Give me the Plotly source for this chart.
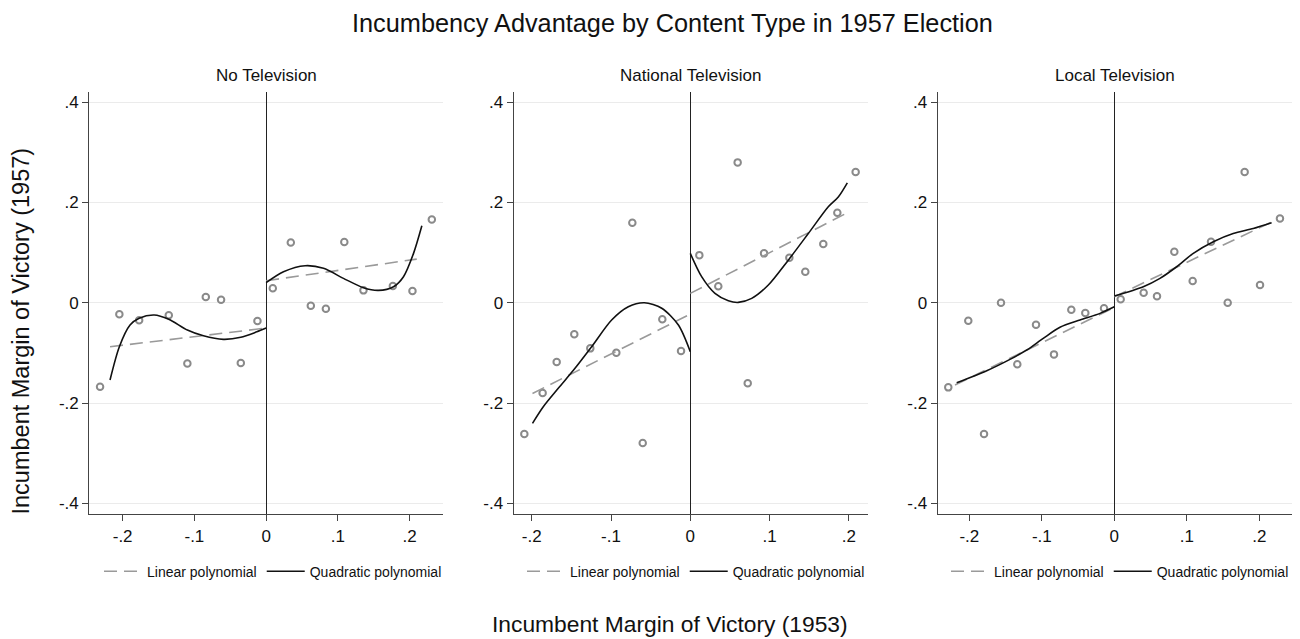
import plotly.graph_objects as go

# ---- Binned scatter means (x = 1953 margin, y = 1957 margin) ----
panel_titles = ["No Television", "National Television", "Local Television"]

no_tv_x = [-0.2315, -0.2046, -0.177, -0.1357, -0.1098, -0.0841, -0.0628, -0.0353, -0.0121,
           0.0093, 0.0344, 0.0623, 0.0833, 0.109, 0.1357, 0.1767, 0.204, 0.231]
no_tv_y = [-0.1675, -0.023, -0.035, -0.025, -0.121, 0.0114, 0.006, -0.120, -0.0365,
           0.0287, 0.120, -0.006, -0.012, 0.121, 0.0247, 0.0333, 0.0233, 0.166]

nat_tv_x = [-0.2093, -0.1862, -0.1685, -0.1463, -0.1261, -0.0933, -0.0731, -0.060, -0.0353, -0.0117,
            0.0114, 0.0353, 0.0597, 0.0724, 0.093, 0.1249, 0.145, 0.1677, 0.1854, 0.2085]
nat_tv_y = [-0.2618, -0.180, -0.1182, -0.063, -0.091, -0.0997, 0.1595, -0.280, -0.033, -0.0963,
            0.095, 0.0327, 0.280, -0.1607, 0.0985, 0.0897, 0.0618, 0.117, 0.1795, 0.261]

loc_tv_x = [-0.229, -0.2014, -0.1797, -0.1563, -0.1338, -0.108, -0.0832, -0.0593, -0.040, -0.0142,
            0.0088, 0.0405, 0.0589, 0.0828, 0.1081, 0.1334, 0.1564, 0.1798, 0.201, 0.2285]
loc_tv_y = [-0.1688, -0.0359, -0.2618, 0.0, -0.1229, -0.0439, -0.103, -0.014, -0.0205, -0.0112,
            0.0068, 0.020, 0.0128, 0.1017, 0.0433, 0.1217, 0.0, 0.261, 0.0353, 0.168]

# ---- Linear fits, each side of the cutoff ----
no_tv_lin_left_x, no_tv_lin_left_y = [-0.2176, 0.0], [-0.0877, -0.0505]
no_tv_lin_right_x, no_tv_lin_right_y = [0.0, 0.210], [0.0439, 0.0871]
nat_tv_lin_left_x, nat_tv_lin_left_y = [-0.199, 0.0], [-0.181, -0.0225]
nat_tv_lin_right_x, nat_tv_lin_right_y = [0.0, 0.195], [0.0187, 0.177]
loc_tv_lin_left_x, loc_tv_lin_left_y = [-0.2197, 0.0], [-0.164, -0.0093]
loc_tv_lin_right_x, loc_tv_lin_right_y = [0.0, 0.217], [0.012, 0.161]

# ---- Polynomial fits, each side of the cutoff ----
no_tv_quad_left_x = [-0.2176, -0.2046, -0.1897, -0.177, -0.156, -0.1357, -0.1098, -0.0874, -0.0596, -0.0353, -0.013, 0.0]
no_tv_quad_left_y = [-0.154, -0.0877, -0.0445, -0.031, -0.0245, -0.033, -0.0545, -0.066, -0.073, -0.069, -0.058, -0.0505]
no_tv_quad_right_x = [0.0, 0.0242, 0.0544, 0.080, 0.1078, 0.1357, 0.1566, 0.1776, 0.1915, 0.2055, 0.2171]
no_tv_quad_right_y = [0.040, 0.0618, 0.0738, 0.0686, 0.0486, 0.030, 0.0247, 0.032, 0.052, 0.0985, 0.1535]

nat_tv_quad_left_x = [-0.199, -0.1854, -0.1665, -0.1454, -0.1244, -0.0992, -0.0782, -0.058, -0.036, -0.015, 0.0]
nat_tv_quad_left_y = [-0.2405, -0.2074, -0.1707, -0.1308, -0.0877, -0.0345, -0.008, 0.0, -0.011, -0.0445, -0.0977]
nat_tv_quad_right_x = [0.0, 0.0143, 0.0311, 0.048, 0.0605, 0.0774, 0.0984, 0.1236, 0.1488, 0.174, 0.1866, 0.198]
nat_tv_quad_right_y = [0.0985, 0.052, 0.0187, 0.004, 0.0007, 0.0087, 0.0353, 0.085, 0.138, 0.1915, 0.211, 0.2393]

loc_tv_quad_left_x = [-0.2174, -0.176, -0.1439, -0.1208, -0.098, -0.0749, -0.0473, -0.0197, 0.0]
loc_tv_quad_left_y = [-0.1595, -0.1356, -0.1129, -0.0943, -0.071, -0.049, -0.0345, -0.0212, -0.008]
loc_tv_quad_right_x = [0.0, 0.040, 0.063, 0.086, 0.109, 0.1366, 0.164, 0.1917, 0.217]
loc_tv_quad_right_y = [0.0134, 0.032, 0.0486, 0.0718, 0.0985, 0.1217, 0.138, 0.148, 0.1595]

x_tick_vals = [-0.2, -0.1, 0.0, 0.1, 0.2]
x_tick_text = ["-.2", "-.1", "0", ".1", ".2"]
y_tick_vals = [-0.4, -0.2, 0.0, 0.2, 0.4]
y_tick_text = ["-.4", "-.2", "0", ".2", ".4"]

W, H = 1300, 639
FONT = "Liberation Sans, Arial, Helvetica, sans-serif"
PT_COLOR = "#8a8a8a"
LIN_COLOR = "#9a9a9a"
QUAD_COLOR = "#111111"
AXIS_COLOR = "#444444"
GRID_COLOR = "#ebebeb"

# pixel extents of each plotting area
x_px = [(89.3, 443.3), (513.7, 867.7), (937.7, 1291.7)]
y_px = (91.7, 514.3)
x_ranges = [(-0.2465, 0.247), (-0.2227, 0.2237), (-0.2436, 0.2447)]
y_range = (-0.422, 0.421)
legend_centers = [273, 696, 1120]

panels = [
    (no_tv_x, no_tv_y,
     (no_tv_lin_left_x, no_tv_lin_left_y), (no_tv_lin_right_x, no_tv_lin_right_y),
     (no_tv_quad_left_x, no_tv_quad_left_y), (no_tv_quad_right_x, no_tv_quad_right_y)),
    (nat_tv_x, nat_tv_y,
     (nat_tv_lin_left_x, nat_tv_lin_left_y), (nat_tv_lin_right_x, nat_tv_lin_right_y),
     (nat_tv_quad_left_x, nat_tv_quad_left_y), (nat_tv_quad_right_x, nat_tv_quad_right_y)),
    (loc_tv_x, loc_tv_y,
     (loc_tv_lin_left_x, loc_tv_lin_left_y), (loc_tv_lin_right_x, loc_tv_lin_right_y),
     (loc_tv_quad_left_x, loc_tv_quad_left_y), (loc_tv_quad_right_x, loc_tv_quad_right_y)),
]

fig = go.Figure()
layout = dict(
    width=W, height=H, autosize=False,
    margin=dict(l=0, r=0, t=0, b=0),
    paper_bgcolor="white", plot_bgcolor="white",
    font=dict(family=FONT, color="#111111"),
    annotations=[],
)

for i, (sx, sy, linL, linR, quadL, quadR) in enumerate(panels):
    n = "" if i == 0 else str(i + 1)
    xa, ya = "x" + n, "y" + n
    lg = "legend" + n

    fig.add_trace(go.Scatter(
        x=sx, y=sy, mode="markers", xaxis=xa, yaxis=ya, showlegend=False,
        marker=dict(symbol="circle-open", size=6.5, color=PT_COLOR, line=dict(width=2, color=PT_COLOR)),
        hoverinfo="skip"))

    for k, (lx, ly) in enumerate([linL, linR]):
        fig.add_trace(go.Scatter(
            x=lx, y=ly, mode="lines", xaxis=xa, yaxis=ya,
            name="Linear polynomial", legend=lg, legendgroup="lin" + n, showlegend=(k == 0),
            line=dict(color=LIN_COLOR, width=1.6, dash="13px,7px")))

    for k, (qx, qy) in enumerate([quadL, quadR]):
        fig.add_trace(go.Scatter(
            x=qx, y=qy, mode="lines", xaxis=xa, yaxis=ya,
            name="Quadratic polynomial", legend=lg, legendgroup="quad" + n, showlegend=(k == 0),
            line=dict(color=QUAD_COLOR, width=1.6, shape="spline", smoothing=0.8)))

    x0, x1 = x_px[i]
    layout["xaxis" + n] = dict(
        domain=[x0 / W, x1 / W], anchor=ya, range=list(x_ranges[i]),
        tickvals=x_tick_vals, ticktext=x_tick_text, ticks="outside", ticklen=6,
        tickcolor=AXIS_COLOR, tickwidth=1, tickfont=dict(size=17, family=FONT, color="#111"),
        showline=True, linecolor=AXIS_COLOR, linewidth=1.2,
        showgrid=False, zeroline=True, zerolinecolor="#222222", zerolinewidth=1.2,
        fixedrange=True)
    layout["yaxis" + n] = dict(
        domain=[1 - y_px[1] / H, 1 - y_px[0] / H], anchor=xa, range=list(y_range),
        tickvals=y_tick_vals, ticktext=y_tick_text, ticks="outside", ticklen=6,
        tickcolor=AXIS_COLOR, tickwidth=1, tickfont=dict(size=17, family=FONT, color="#111"),
        showline=True, linecolor=AXIS_COLOR, linewidth=1.2,
        showgrid=True, gridcolor=GRID_COLOR, gridwidth=1, zeroline=False,
        fixedrange=True)
    layout[lg] = dict(
        orientation="h", x=legend_centers[i] / W, xanchor="center",
        y=1 - 571.7 / H, yanchor="middle", bgcolor="rgba(0,0,0,0)",
        font=dict(size=14, family=FONT, color="#111"), itemwidth=38)

    layout["annotations"].append(dict(
        text=panel_titles[i], xref="paper", yref="paper",
        x=(x0 + x1) / 2 / W, y=1 - 76 / H, xanchor="center", yanchor="middle",
        showarrow=False, font=dict(size=17, family=FONT, color="#111")))

layout["annotations"] += [
    dict(text="Incumbency Advantage by Content Type in 1957 Election", xref="paper", yref="paper",
         x=672.7 / W, y=1 - 23 / H, xanchor="center", yanchor="middle", showarrow=False,
         font=dict(size=25.3, family=FONT, color="#111")),
    dict(text="Incumbent Margin of Victory (1953)", xref="paper", yref="paper",
         x=670 / W, y=1 - 624 / H, xanchor="center", yanchor="middle", showarrow=False,
         font=dict(size=22.8, family=FONT, color="#111")),
    dict(text="Incumbent Margin of Victory (1957)", xref="paper", yref="paper",
         x=20 / W, y=1 - 331.5 / H, xanchor="center", yanchor="middle", showarrow=False,
         textangle=-90, font=dict(size=23.5, family=FONT, color="#111")),
]

fig.update_layout(**layout)
fig.write_html("out.html")
